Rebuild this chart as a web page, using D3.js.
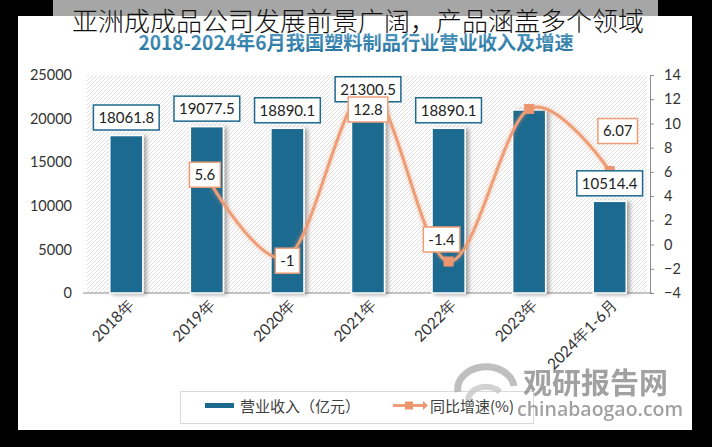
<!DOCTYPE html>
<html><head><meta charset="utf-8">
<script src="https://cdn.jsdelivr.net/npm/d3@7/dist/d3.min.js"></script>
<style>body{margin:0;background:#000}svg{display:block}</style>
</head><body><svg id="c" width="712" height="447"></svg>
<script>
const categories = ["2018年","2019年","2020年","2021年","2022年","2023年","2024年1-6月"];
const revenue = [18061.8, 19077.5, 18890.1, 21300.5, 18890.1, 20990, 10514.4];
const revenueLabels = ["18061.8","19077.5","18890.1","21300.5","18890.1",null,"10514.4"];
const growth = [null, 5.6, -1, 12.8, -1.4, 11.2, 6.07];
const growthLabels = [null, "5.6", "-1", "12.8", "-1.4", null, "6.07"];
const leftTicks = [0, 5000, 10000, 15000, 20000, 25000];
const rightTicks = [-4, -2, 0, 2, 4, 6, 8, 10, 12, 14];
const growthLabelOffset = [null, [-2,-2], [0,4], [0,20], [-7,-22], null, [8,-40]];

const BLUE = "#1d6a8f", ORANGE = "#ef9d76", TXT = "#333";
const svg = d3.select("#c");
const defs = svg.append("defs");
const pat = defs.append("pattern").attr("id","hatch").attr("patternUnits","userSpaceOnUse")
  .attr("width",4).attr("height",4);
pat.append("rect").attr("width",4).attr("height",4).attr("fill","#fff");
pat.append("path").attr("d","M-1,1 l2,-2 M0,4 l4,-4 M3,5 l2,-2").attr("stroke","#dcdcdc").attr("stroke-width",0.9);
const sh = defs.append("filter").attr("id","shadow").attr("x","-30%").attr("y","-10%").attr("width","160%").attr("height","130%");
sh.append("feDropShadow").attr("dx",3).attr("dy",1).attr("stdDeviation",2).attr("flood-color","#000").attr("flood-opacity",0.35);
const glow = defs.append("filter").attr("id","glow").attr("x","-10%").attr("y","-10%").attr("width","120%").attr("height","120%");
glow.append("feDropShadow").attr("dx",0).attr("dy",0).attr("stdDeviation",2).attr("flood-color",ORANGE).attr("flood-opacity",0.6);
const tg = defs.append("linearGradient").attr("id","tgrad").attr("x1",0).attr("y1",0).attr("x2",0).attr("y2",1);
tg.append("stop").attr("offset","0%").attr("stop-color","#5a9fc6");
tg.append("stop").attr("offset","100%").attr("stop-color","#1f6f9b");

// frame
svg.append("rect").attr("x",53).attr("y",0).attr("width",605).attr("height",16).attr("fill","#a6a6a6");
svg.append("rect").attr("x",18).attr("y",16).attr("width",674).attr("height",414).attr("fill","#fff");

const x = d3.scaleBand().domain(categories).range([86,650]).paddingInner(0.59).paddingOuter(0.295);
const yL = d3.scaleLinear().domain([0,25000]).range([293,75]);
const yR = d3.scaleLinear().domain([-4,14]).range([293,75]);

// plot background
svg.append("rect").attr("x",87).attr("y",75).attr("width",560).attr("height",218).attr("fill","url(#hatch)");

// title
svg.append("text").attr("x",356).attr("y",50).attr("text-anchor","middle")
  .attr("font-family","'Noto Sans CJK SC'").attr("font-weight","bold").attr("font-size",19.2)
  .attr("fill","url(#tgrad)").text("2018-2024年6月我国塑料制品行业营业收入及增速");

// left axis
const gL = svg.append("g").attr("transform","translate(80,0)")
  .call(d3.axisLeft(yL).tickValues(leftTicks).tickSize(0).tickPadding(8).tickFormat(d3.format("d")));
gL.select(".domain").remove();
gL.selectAll("text").attr("font-family","Lato").attr("font-size",14.5).attr("fill",TXT);

// right axis
const gR = svg.append("g").attr("transform","translate(650,0)")
  .call(d3.axisRight(yR).tickValues(rightTicks).tickSize(4).tickSizeOuter(0).tickPadding(10).tickFormat(d3.format("d")));
gR.select(".domain").attr("stroke","#8c8c8c");
gR.selectAll("line").attr("stroke","#8c8c8c");
gR.selectAll("text").attr("font-family","Lato").attr("font-size",14.5).attr("fill",TXT);

// bottom axis
const gB = svg.append("g").attr("transform","translate(0,293)")
  .call(d3.axisBottom(x).tickSize(0).tickPadding(0));
gB.select(".domain").attr("stroke","#8c8c8c").attr("d","M83,0H652");
gB.selectAll("text").attr("font-family","Lato").attr("font-size",15.5).attr("fill",TXT)
  .attr("text-anchor","end").attr("dy",0)
  .attr("transform","translate(9,13) rotate(-45)");

// bars
svg.append("g").selectAll("rect").data(revenue).join("rect")
  .attr("x",(d,i)=>x(categories[i])).attr("y",d=>yL(d))
  .attr("width",x.bandwidth()).attr("height",d=>yL(0)-yL(d))
  .attr("fill",BLUE).attr("stroke","#fff").attr("stroke-width",1.5).attr("filter","url(#shadow)");

// line
const pts = growth.map((v,i)=>({v,i})).filter(d=>d.v!==null);
const line = d3.line().x(d=>x(categories[d.i])+x.bandwidth()/2).y(d=>yR(d.v)).curve(d3.curveCatmullRom.alpha(0));
svg.append("path").datum(pts).attr("d",line).attr("fill","none").attr("stroke",ORANGE)
  .attr("stroke-width",3).attr("filter","url(#glow)");
svg.append("g").selectAll("rect").data(pts).join("rect")
  .attr("x",d=>x(categories[d.i])+x.bandwidth()/2-5).attr("y",d=>yR(d.v)-5)
  .attr("width",10).attr("height",10).attr("fill","#ec9670");

function box(g, cx, cy, txt, stroke){
  const t = g.append("text").attr("x",cx).attr("y",cy).attr("text-anchor","middle").attr("dy","0.36em")
    .attr("font-family","Lato").attr("font-size",15).attr("fill","#222").text(txt);
  const w = t.node().getComputedTextLength()+10;
  g.insert("rect","text").attr("x",cx-w/2).attr("y",cy-12.5).attr("width",w).attr("height",25)
    .attr("fill","#fff").attr("stroke",stroke).attr("stroke-width",1.5);
}
// bar labels
revenue.forEach((v,i)=>{
  if(!revenueLabels[i]) return;
  const g = svg.append("g");
  box(g, x(categories[i])+x.bandwidth()/2, yL(v)-18, revenueLabels[i], BLUE);
});
// growth labels
growth.forEach((v,i)=>{
  if(!growthLabels[i]) return;
  const o = growthLabelOffset[i];
  const g = svg.append("g");
  box(g, x(categories[i])+x.bandwidth()/2+o[0], yR(v)+o[1], growthLabels[i], ORANGE);
});

// legend
const lg = svg.append("g");
lg.append("rect").attr("x",180.5).attr("y",391.5).attr("width",353).attr("height",32).attr("fill","#fff").attr("stroke","#d9d9d9");
lg.append("rect").attr("x",205).attr("y",403).attr("width",29).attr("height",5).attr("fill",BLUE);
lg.append("text").attr("x",240).attr("y",412).attr("font-family","'Noto Sans CJK SC'").attr("font-size",15).attr("fill","#404040").text("营业收入（亿元）");
lg.append("line").attr("x1",393).attr("x2",425).attr("y1",405.5).attr("y2",405.5).attr("stroke",ORANGE).attr("stroke-width",3);
lg.append("rect").attr("x",405).attr("y",401.5).attr("width",8).attr("height",8).attr("fill","#ec9670");
lg.append("path").attr("d","M423,401 L428,405.5 L423,410 Z").attr("fill","#ec9670");
lg.append("text").attr("x",430).attr("y",412).attr("font-family","'Noto Sans CJK SC'").attr("font-size",15).attr("fill","#404040").text("同比增速(%)");

// watermark
const wm = svg.append("g").attr("opacity",0.8);
wm.append("path").attr("d","M458,392 A28,22 0 0 1 514,386").attr("fill","none").attr("stroke","#b0b0b0").attr("stroke-width",7);
wm.append("path").attr("d","M468,400 A18,14 0 0 1 500,392").attr("fill","none").attr("stroke","#c8c8c8").attr("stroke-width",6);
wm.append("text").attr("x",523).attr("y",394).attr("font-family","'Noto Sans CJK SC'").attr("font-weight","bold")
  .attr("font-size",29).attr("fill","#8a8a8a").text("观研报告网");
wm.append("text").attr("x",517).attr("y",416).attr("font-family","'Open Sans'").attr("font-weight","600")
  .attr("font-size",19.5).attr("fill","#8a8a8a").text("chinabaogao.com");

// overlay caption
svg.append("text").attr("x",358).attr("y",31).attr("text-anchor","middle")
  .attr("font-family","'Noto Sans CJK SC'").attr("font-weight",300).attr("font-size",26)
  .attr("fill","#111").text("亚洲成成品公司发展前景广阔，产品涵盖多个领域");
</script></body></html>
